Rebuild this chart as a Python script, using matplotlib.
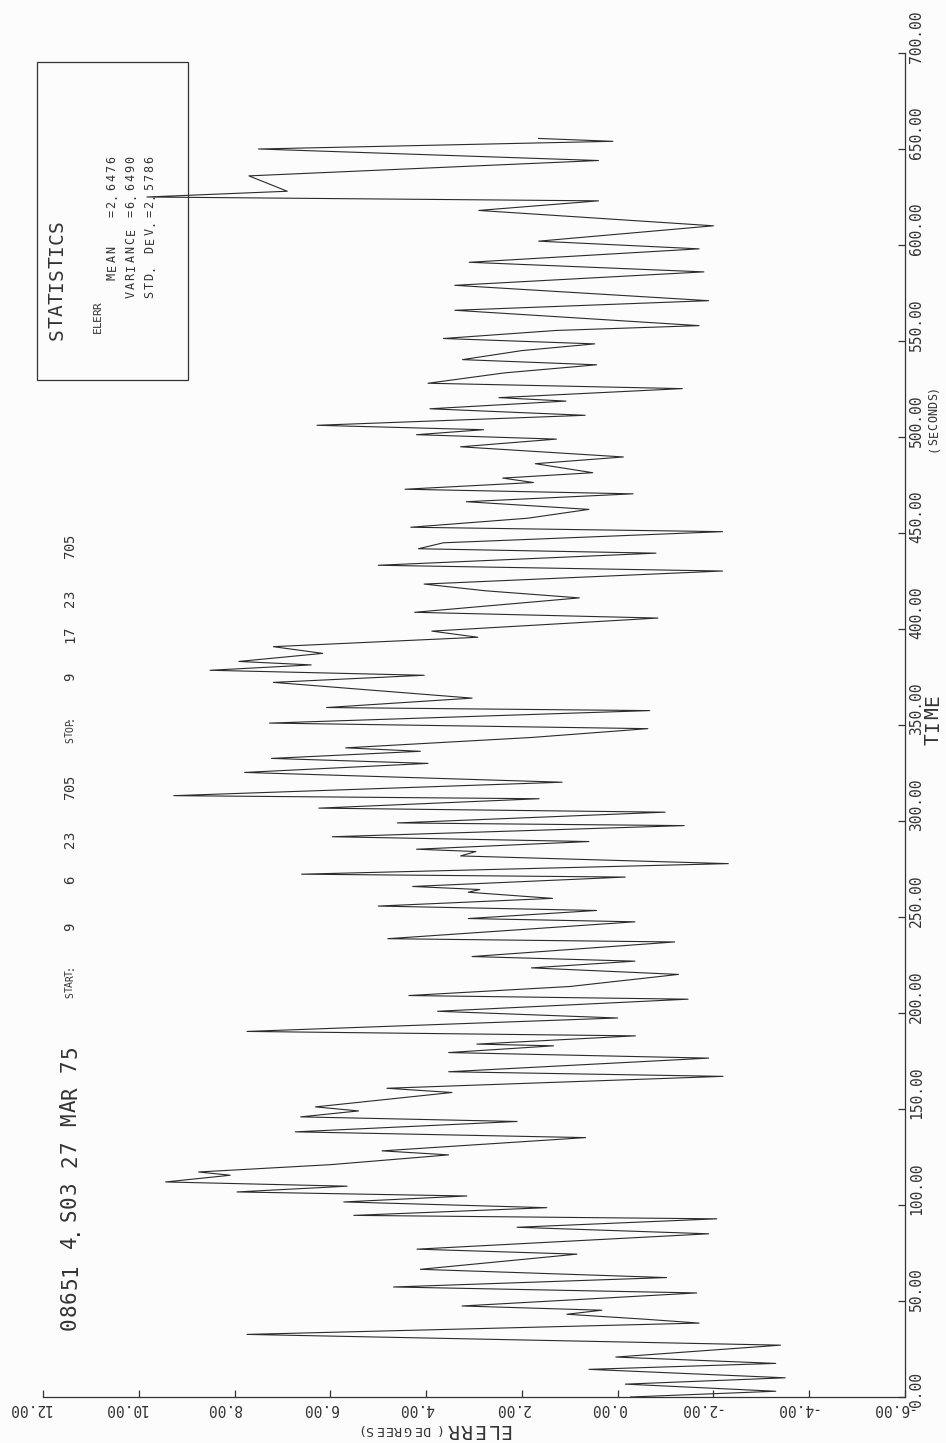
import numpy as np
import matplotlib.pyplot as plt
from matplotlib.patches import Rectangle
from matplotlib.transforms import ScaledTranslation

# elevation error trace, turning points (seconds, degrees)
time_s = [0.0, 3.0, 6.7, 10.0, 14.4, 17.5, 20.8, 27.0, 32.6, 38.5,
          40.5, 43.1, 45.2, 47.4, 54.2, 57.3, 62.2, 66.5, 74.4, 77.0,
          85.0, 88.4, 92.8, 94.6, 98.6, 101.6, 104.7, 106.8, 109.8, 112.0,
          115.5, 117.2, 121.0, 126.1, 128.2, 135.1, 138.1, 143.5, 145.9, 149.0,
          151.1, 158.6, 160.8, 167.0, 169.4, 176.5, 179.4, 182.9, 183.8, 188.1,
          190.4, 197.4, 200.9, 207.2, 209.1, 213.8, 220.1, 223.5, 227.0, 229.4,
          237.0, 238.7, 247.5, 249.2, 253.4, 255.7, 259.7, 262.9, 264.3, 265.9,
          270.8, 272.3, 277.8, 281.8, 284.1, 285.3, 289.3, 291.8, 297.6, 299.0,
          304.6, 306.7, 311.6, 313.2, 320.2, 325.3, 330.0, 332.6, 336.3, 338.1,
          343.5, 348.1, 351.0, 357.5, 359.1, 364.0, 372.2, 375.9, 378.5, 381.3,
          383.1, 387.3, 390.8, 395.7, 398.9, 405.7, 408.7, 416.2, 419.9, 423.4,
          430.2, 433.2, 439.5, 441.8, 444.9, 450.7, 453.0, 457.7, 462.3, 466.3,
          470.4, 472.8, 476.3, 478.6, 481.4, 486.1, 489.6, 494.9, 498.9, 501.2,
          503.8, 506.1, 511.3, 514.7, 518.7, 520.5, 525.2, 528.0, 533.4, 537.6,
          540.3, 545.0, 548.5, 551.3, 555.5, 558.0, 566.0, 571.0, 579.0, 586.0,
          591.0, 598.0, 602.0, 610.0, 618.0, 623.0, 625.0, 628.0, 636.0, 644.0,
          650.0, 654.0, 655.5]
elerr = [-0.27, -3.30, -0.16, -3.50, 0.60, -3.30, 0.04, -3.40, 7.74, -1.70,
         -0.58, 1.06, 0.33, 3.25, -1.65, 4.68, -1.02, 4.12, 0.85, 4.19,
         -1.90, 2.10, -2.07, 5.51, 1.48, 5.72, 3.15, 7.95, 5.65, 9.44,
         8.09, 8.75, 6.00, 3.53, 4.92, 0.67, 6.73, 2.10, 6.62, 5.41,
         6.31, 3.46, 4.82, -2.20, 3.53, -1.90, 3.53, 1.34, 2.94, -0.37,
         7.74, 0.00, 3.76, -1.47, 4.36, 1.00, -1.27, 1.80, -0.36, 3.04,
         -1.19, 4.80, -0.36, 3.12, 0.44, 5.00, 1.36, 3.12, 2.88, 4.28,
         -0.16, 6.60, -2.31, 3.28, 2.96, 4.20, 0.60, 5.96, -1.39, 4.60,
         -0.99, 6.24, 1.64, 9.27, 1.16, 7.79, 3.96, 7.23, 4.12, 5.68,
         1.80, -0.63, 7.27, -0.67, 6.08, 3.04, 7.19, 4.04, 8.51, 6.40,
         7.91, 6.16, 7.19, 2.92, 3.88, -0.84, 4.24, 0.80, 2.76, 4.04,
         -2.19, 5.00, -0.80, 4.16, 3.64, -2.19, 4.32, 1.88, 0.60, 3.16,
         -0.32, 4.44, 1.76, 2.40, 0.52, 1.72, -0.12, 3.28, 1.28, 4.20,
         2.80, 6.28, 0.68, 3.92, 1.08, 2.48, -1.35, 3.96, 2.36, 0.44,
         3.24, 2.00, 0.48, 3.64, 1.28, -1.70, 3.40, -1.90, 3.40, -1.80,
         3.10, -1.70, 1.65, -2.00, 2.90, 0.40, 9.83, 6.90, 7.70, 0.40,
         7.50, 0.10, 1.65]

elerr_ticks = [12, 10, 8, 6, 4, 2, 0, -2, -4, -6]
time_ticks = [0, 50, 100, 150, 200, 250, 300, 350, 400, 450, 500, 550, 600, 650, 700]

W, H = 946, 1443
INK = '#333333'
MONO = 'DejaVu Sans Mono'
fig = plt.figure(figsize=(W / 100, H / 100), dpi=100)
fig.patch.set_facecolor('#fcfcfc')


def fx(x):
    return x / W


def fy(y):
    return 1 - y / H


def pen_text(x, y, s, size, pitch, rot=90):
    # plotter lettering: one glyph per fixed step, starting at (x, y)
    for i, ch in enumerate(s):
        if ch == ' ':
            continue
        if rot == 90:
            px, py = x, y - i * pitch
        else:
            px, py = x - i * pitch, y
        fig.text(fx(px), fy(py), ch, rotation=rot, rotation_mode='anchor',
                 ha='left', va='center', fontsize=size, family=MONO, color=INK)


# page is turned: time runs up the right edge, ELERR runs right-to-left
x0, x1, ytop, ybot = 43, 905, 53, 1397
ax = fig.add_axes([fx(x0), fy(ybot), (x1 - x0) / W, (ybot - ytop) / H])
ax.set_facecolor('none')
ax.plot(elerr, time_s, color='#2b2b2b', lw=0.8)
ax.set_xlim(12, -6)
ax.set_ylim(0, 700)

for s in ['top', 'left']:
    ax.spines[s].set_visible(False)
for s in ['bottom', 'right']:
    ax.spines[s].set_color(INK)
    ax.spines[s].set_linewidth(0.9)

ax.yaxis.tick_right()
ax.set_xticks(elerr_ticks)
ax.set_yticks(time_ticks)
ax.tick_params(direction='in', length=5, width=0.9, color=INK,
               labelsize=10.5, labelcolor=INK, pad=3)
ax.set_xticklabels(['%.2f' % v for v in elerr_ticks], rotation=180,
                   ha='right', va='top', family=MONO)
ax.set_yticklabels(['%.2f' % v for v in time_ticks], rotation=90,
                   ha='left', va='bottom', family=MONO)
for lab in ax.get_xticklabels():
    lab.set_transform(lab.get_transform() + ScaledTranslation(8 / 100, 0, fig.dpi_scale_trans))
for lab in ax.get_yticklabels():
    lab.set_transform(lab.get_transform() + ScaledTranslation(0, -10 / 100, fig.dpi_scale_trans))

# axis titles
pen_text(510, 1430, 'ELERR', 14, 13, rot=180)
pen_text(440, 1429, '(DEGREES)', 9.5, 9.6, rot=180)
pen_text(933, 745, 'TIME', 14, 13)
pen_text(934, 452, '(SECONDS)', 8.5, 7.4)

# run header
pen_text(70, 1330, '08651 4.S03 27 MAR 75', 15, 13.6)
header = [('START:', 998, 7, 5.6), ('9', 931, 10, 7.5), ('6', 884, 10, 7.5),
          ('23', 848, 10, 7.5), ('705', 799, 10, 7.5), ('STOP:', 743, 7, 5.6),
          ('9', 681, 10, 7.5), ('17', 643, 10, 7.5), ('23', 607, 10, 7.5),
          ('705', 558, 10, 7.5)]
for s, y, size, pitch in header:
    pen_text(70, y, s, size, pitch)

# statistics box
fig.add_artist(Rectangle((fx(37), fy(380)), (188 - 37) / W, (380 - 62) / H,
                         transform=fig.transFigure, fill=False, ec=INK, lw=0.9))
pen_text(57, 340, 'STATISTICS', 14, 12)
pen_text(98, 333, 'ELERR', 8, 6)
pen_text(112, 298, '  MEAN   =2.6476', 8.5, 9)
pen_text(131, 298, 'VARIANCE =6.6490', 8.5, 9)
pen_text(150, 298, 'STD. DEV.=2.5786', 8.5, 9)

fig.savefig('out.png', dpi=100, facecolor=fig.get_facecolor())
